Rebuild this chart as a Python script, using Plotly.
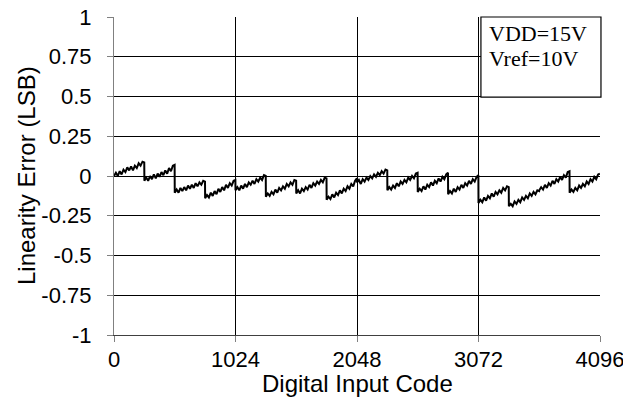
import plotly.graph_objects as go

# Segment start codes (each segment spans 256 codes) and sample offsets within a segment
segment_start = [0, 256, 512, 768, 1024, 1280, 1536, 1792,
                 2048, 2304, 2560, 2816, 3072, 3328, 3584, 3840]
segment_offset = [0, 16, 32, 48, 64, 80, 96, 112, 128, 144, 160, 176, 192, 208, 224, 240, 255]

# Linearity error (LSB), one row per segment
err_seg = [
    [0.0, 0.02, 0.0, 0.03, 0.01, 0.04, 0.025, 0.055, 0.035, 0.06, 0.035, 0.065, 0.05, 0.08, 0.065, 0.09, 0.085],
    [-0.03, -0.01, -0.03, 0.0, -0.02, 0.01, -0.015, 0.015, -0.005, 0.025, 0.005, 0.035, 0.015, 0.05, 0.03, 0.065, 0.07],
    [-0.105, -0.085, -0.105, -0.075, -0.095, -0.07, -0.09, -0.06, -0.08, -0.055, -0.075, -0.045, -0.065, -0.04, -0.055, -0.03, -0.035],
    [-0.14, -0.12, -0.135, -0.105, -0.125, -0.095, -0.115, -0.08, -0.1, -0.07, -0.09, -0.055, -0.075, -0.045, -0.06, -0.03, -0.025],
    [-0.09, -0.07, -0.09, -0.06, -0.08, -0.05, -0.07, -0.04, -0.055, -0.03, -0.05, -0.02, -0.035, -0.01, -0.025, 0.005, 0.0],
    [-0.13, -0.11, -0.125, -0.1, -0.115, -0.085, -0.105, -0.075, -0.09, -0.065, -0.08, -0.05, -0.065, -0.04, -0.055, -0.025, -0.03],
    [-0.11, -0.09, -0.11, -0.08, -0.095, -0.07, -0.085, -0.055, -0.075, -0.045, -0.06, -0.035, -0.05, -0.025, -0.04, -0.01, -0.015],
    [-0.15, -0.13, -0.145, -0.115, -0.135, -0.105, -0.12, -0.09, -0.11, -0.08, -0.095, -0.065, -0.08, -0.05, -0.065, -0.03, -0.015],
    [-0.04, -0.025, -0.05, -0.02, -0.035, -0.01, -0.025, 0.0, -0.015, 0.01, -0.005, 0.02, 0.005, 0.03, 0.015, 0.04, 0.035],
    [-0.09, -0.07, -0.085, -0.06, -0.075, -0.045, -0.065, -0.035, -0.05, -0.025, -0.04, -0.01, -0.025, 0.0, -0.015, 0.015, 0.02],
    [-0.1, -0.08, -0.095, -0.065, -0.085, -0.055, -0.07, -0.04, -0.06, -0.03, -0.045, -0.015, -0.035, -0.005, -0.02, 0.01, 0.02],
    [-0.115, -0.095, -0.11, -0.08, -0.1, -0.07, -0.085, -0.055, -0.075, -0.045, -0.06, -0.03, -0.05, -0.02, -0.035, -0.005, 0.005],
    [-0.17, -0.15, -0.165, -0.135, -0.155, -0.125, -0.14, -0.11, -0.13, -0.1, -0.115, -0.09, -0.105, -0.075, -0.09, -0.065, -0.07],
    [-0.19, -0.175, -0.19, -0.16, -0.175, -0.15, -0.165, -0.135, -0.15, -0.125, -0.14, -0.11, -0.125, -0.1, -0.115, -0.09, -0.095],
    [-0.09, -0.07, -0.085, -0.055, -0.075, -0.045, -0.06, -0.03, -0.05, -0.02, -0.035, -0.005, -0.025, 0.005, -0.01, 0.025, 0.03],
    [-0.105, -0.085, -0.1, -0.075, -0.09, -0.06, -0.075, -0.05, -0.065, -0.035, -0.05, -0.02, -0.035, -0.005, -0.02, 0.01, 0.015],
]

x_tick_vals = [0, 1024, 2048, 3072, 4096]
x_tick_text = ["0", "1024", "2048", "3072", "4096"]
y_tick_vals = [1, 0.75, 0.5, 0.25, 0, -0.25, -0.5, -0.75, -1]
y_tick_text = ["1", "0.75", "0.5", "0.25", "0", "-0.25", "-0.5", "-0.75", "-1"]
legend_lines = ["VDD=15V", "Vref=10V"]
x_title = "Digital Input Code"
y_title = "Linearity Error (LSB)"

codes = []
errors = []
for start, seg in zip(segment_start, err_seg):
    for off, v in zip(segment_offset, seg):
        codes.append(start + off)
        errors.append(v)

fig = go.Figure()
fig.add_trace(go.Scatter(x=codes, y=errors, mode="lines",
                         line=dict(color="black", width=2), showlegend=False))

font_sans = "Liberation Sans, Arial, sans-serif"
serif = "Liberation Serif, Times New Roman, serif"
fig.update_layout(
    width=623, height=409,
    margin=dict(l=114, r=23, t=17, b=74, autoexpand=False),
    paper_bgcolor="white", plot_bgcolor="white",
    font=dict(family=font_sans, color="black", size=22),
    xaxis=dict(range=[0, 4096], tickvals=x_tick_vals, ticktext=x_tick_text,
               showgrid=True, gridcolor="black", gridwidth=1, automargin=False,
               zeroline=False, showline=True, linecolor="#404040", linewidth=1.2,
               ticks="outside", ticklen=6, tickcolor="#808080", ticklabelstandoff=-2,
               ticklabeloverflow="allow", tickfont=dict(size=22)),
    yaxis=dict(range=[-1, 1], tickvals=y_tick_vals, ticktext=y_tick_text,
               showgrid=True, gridcolor="black", gridwidth=1, automargin=False,
               zeroline=False, showline=True, linecolor="#808080", linewidth=1.2,
               ticks="outside", ticklen=6, tickcolor="#808080", ticklabelstandoff=11,
               tickfont=dict(size=22)),
    shapes=[dict(type="rect", xref="paper", yref="paper", x0=0.755, x1=1.002, y0=0.748, y1=1.0,
                 line=dict(color="black", width=1.2), fillcolor="white", layer="above")],
)
# axis titles
fig.add_annotation(x=0.5, y=0, xref="paper", yref="paper", text=x_title, showarrow=False,
                   xanchor="center", yanchor="middle", yshift=-48, font=dict(size=24))
fig.add_annotation(x=0, y=0.5, xref="paper", yref="paper", text=y_title, showarrow=False,
                   textangle=-90, xanchor="center", yanchor="middle", xshift=-88, font=dict(size=24))
# legend box text
fig.add_annotation(x=0.7675, y=0.948, xref="paper", yref="paper", text=legend_lines[0],
                   showarrow=False, xanchor="left", yanchor="middle",
                   font=dict(family=serif, size=22, color="black"))
fig.add_annotation(x=0.7675, y=0.868, xref="paper", yref="paper", text=legend_lines[1],
                   showarrow=False, xanchor="left", yanchor="middle",
                   font=dict(family=serif, size=22, color="black"))

fig.write_html("out.html", config={"displayModeBar": False},
               post_script="document.body.style.margin='0px';")
